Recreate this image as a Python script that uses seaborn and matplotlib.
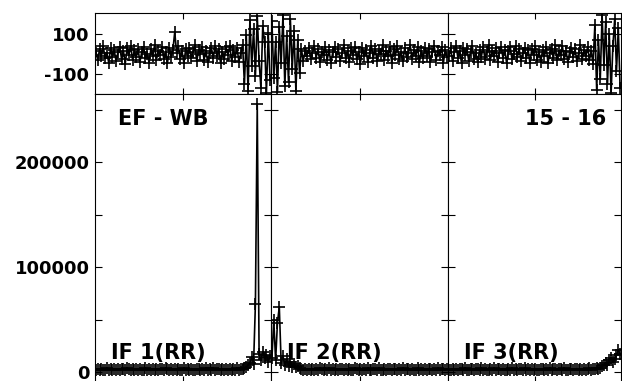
import matplotlib
matplotlib.use("Agg")
import matplotlib.pyplot as plt
import seaborn as sns

# channels per IF and the labels
n_chan = 96
channels = list(range(1, n_chan + 1))
if_labels = ["IF 1(RR)", "IF 2(RR)", "IF 3(RR)"]
baseline_label = "EF - WB"
time_label = "15 - 16"

# phase (degrees), one list per IF
phase_if1 = [14, -32, 25, -9, 38, -21, 6, -44, 30, -13, 19, -37,
             9, 35, -26, 16, -48, 28, -4, 41, -29, 18, -17, 24,
             -40, 11, 33, -19, 2, -43, 26, -11, 45, -31, 17, -6,
             37, -24, 8, -47, 29, -15, 21, 110, 5, 40, -27, 13,
             -45, 27, -8, 32, -20, 11, 43, -35, 20, -2, 36, -28,
             15, -41, 7, 30, -18, 39, -9, 24, -46, 12, -25, 34,
             -6, 42, -33, 19, -14, 28, -39, 3, 47, -150, 95, -185,
             170, -60, 125, -110, 190, -35, -170, 140, 60, -195, 105, -130]
phase_if2 = [165, -120, 60, -190, 135, -45, 195, -160, 90, -140, 175, -75,
             115, -185, 70, -95, 24, -35, 14, -8, 31, -24, 7, 39,
             -18, 26, -42, 12, -3, 34, -28, 18, -46, 9, 36, -14,
             23, -33, 4, 43, -22, 15, -39, 28, -7, 37, -25, 10,
             -49, 31, -12, 20, -41, 6, 38, -19, 27, -35, 13, -2,
             44, -30, 17, -10, 33, -44, 24, -5, 40, -23, 11, -37,
             29, -16, 3, 45, -27, 19, -8, 35, -42, 14, -21, 32,
             -11, 26, -38, 8, 41, -29, 16, -4, 36, -45, 22, -13]
phase_if3 = [-12, 29, -37, 8, 42, -20, 15, -46, 31, -6, 24, -33,
             11, 39, -27, 3, -41, 20, -14, 36, -24, 9, 46, -30,
             16, -8, 28, -39, 5, 34, -18, 22, -44, 13, 37, -26,
             2, 41, -16, 25, -35, 7, 30, -21, 18, -47, 26, -4,
             39, -28, 12, -38, 21, -11, 33, -43, 6, 27, -19, 44,
             -32, 14, -5, 38, -25, 17, -40, 10, 31, -15, 23, -36,
             4, 45, -23, 19, -9, 35, -29, 13, -48, 145, -180, 70,
             -125, 195, -55, 160, -150, 100, -195, 40, 175, -85, 130, -170]

# amplitude, one list per IF
amp_if1 = [2100, 2800, 1600, 3200, 2400, 1900, 3500, 2200, 2700, 1500, 3100, 2300,
           2900, 1800, 3300, 2500, 2000, 3400, 2600, 1700, 3000, 2200, 2800, 1600,
           3200, 2400, 1900, 3600, 2100, 2700, 1500, 3100, 2300, 2900, 1800, 3300,
           2500, 2000, 3400, 2600, 1700, 3000, 2200, 2800, 1600, 3200, 2400, 1900,
           3500, 2100, 2700, 1800, 3300, 2400, 2000, 3100, 2600, 1700, 2900, 2300,
           3400, 1900, 2800, 2200, 3600, 1600, 3000, 2500, 2100, 3200, 1800, 2700,
           2400, 3100, 1700, 2900, 2200, 3500, 2000, 2600, 3300, 3800, 4600, 6500,
           9000, 14000, 8000, 65000, 255000, 17000, 11000, 19000, 13000, 16000, 10000, 15000]
amp_if2 = [13000, 50000, 11000, 47000, 62000, 9000, 15000, 7000, 12000, 6000, 10000, 5000,
           8000, 4500, 6000, 3500, 2600, 1800, 3100, 2300, 2900, 1700, 3300, 2000,
           2700, 1600, 3400, 2500, 1900, 3000, 2200, 3500, 1800, 2800, 2400, 3200,
           1500, 2600, 3100, 2100, 2900, 1700, 3300, 2300, 2000, 3600, 2500, 1600,
           3000, 2200, 2800, 1900, 3400, 2400, 1800, 3200, 2600, 2000, 3500, 2300,
           1700, 2900, 2100, 3300, 2500, 1600, 3100, 2700, 2000, 2800, 2200, 3400,
           1900, 2600, 3000, 1800, 3200, 2400, 2100, 3500, 1700, 2800, 2300, 3100,
           2000, 3300, 2500, 1600, 2900, 2200, 3400, 1800, 2700, 3000, 2100, 2600]
amp_if3 = [2400, 1700, 3100, 2200, 2900, 1600, 3300, 2500, 2000, 3500, 2300, 1800,
           3000, 2600, 1900, 3200, 2700, 1500, 3400, 2100, 2800, 2300, 1700, 3100,
           2200, 3600, 1900, 2500, 3000, 1800, 3300, 2400, 1600, 2900, 2200, 3500,
           2000, 2700, 1800, 3200, 2600, 2100, 3400, 1700, 2800, 2300, 3000, 1900,
           3300, 2400, 2000, 3100, 2600, 1800, 2900, 2200, 3500, 1700, 2700, 3200,
           2100, 3000, 2500, 1600, 3400, 2300, 1900, 2800, 3100, 2000, 2600, 3300,
           1800, 2900, 2400, 3200, 2100, 2700, 3500, 2000, 3000, 2500, 3600, 3000,
           4200, 5500, 7000, 9000, 6500, 11000, 13000, 10000, 12000, 16000, 21000, 17000]

phases = [phase_if1, phase_if2, phase_if3]
amps = [amp_if1, amp_if2, amp_if3]

sns.set_theme(style="white")
plt.rcParams["font.family"] = ["DejaVu Sans"]
plt.rcParams["font.weight"] = "bold"
plt.rcParams["axes.unicode_minus"] = False
plt.rcParams["text.color"] = "black"
plt.rcParams["xtick.color"] = "black"
plt.rcParams["ytick.color"] = "black"

W, H = 622, 381
fig = plt.figure(figsize=(W / 100, H / 100), dpi=100)

col_edges = [95, 271, 448, 621]
top_rows = (13, 94)
bot_rows = (94, 382)

line_kw = dict(color="black", sort=False, marker="+", markersize=8.5,
               markeredgewidth=1.2, markeredgecolor="black", linewidth=1.2)


def add_axes(x0, x1, y0, y1):
    return fig.add_axes([x0 / W, 1 - y1 / H, (x1 - x0) / W, (y1 - y0) / H])


def style_axes(ax, first):
    for sp in ax.spines.values():
        sp.set_color("black")
        sp.set_linewidth(0.8)
    ax.set_xlim(0.5, n_chan + 0.5)
    ax.set_xticks([(n_chan + 1) / 2])
    ax.set_xticklabels([])
    ax.tick_params(axis="x", direction="in", top=True, bottom=True,
                   length=4, width=0.8, color="black")
    ax.tick_params(axis="y", which="both", direction="in", left=True, right=True,
                   length=5, width=0.8, color="black", labelsize=13, pad=4,
                   labelcolor="black")
    if not first:
        ax.tick_params(axis="y", labelleft=False)
    ax.set_xlabel("")
    ax.set_ylabel("")


for i in range(3):
    x0, x1 = col_edges[i], col_edges[i + 1]

    ax_ph = add_axes(x0, x1, *top_rows)
    sns.lineplot(x=channels, y=phases[i], ax=ax_ph, **line_kw)
    ax_ph.set_ylim(-200, 205)
    ax_ph.set_yticks([-100, 100])
    ax_ph.set_yticklabels(["-100", "100"], fontweight="bold")
    style_axes(ax_ph, i == 0)

    ax_am = add_axes(x0, x1, *bot_rows)
    sns.lineplot(x=channels, y=amps[i], ax=ax_am, **line_kw)
    ax_am.set_ylim(-9500, 264762)
    ax_am.set_yticks([0, 100000, 200000])
    ax_am.set_yticklabels(["0", "100000", "200000"], fontweight="bold")
    ax_am.set_yticks([50000, 150000, 250000], minor=True)
    style_axes(ax_am, i == 0)

    ax_am.text(16 / (x1 - x0), 0.10, if_labels[i], transform=ax_am.transAxes,
               fontsize=15, fontweight="bold", ha="left", va="center")
    if i == 0:
        ax_am.text(23 / (x1 - x0), 0.912, baseline_label, transform=ax_am.transAxes,
                   fontsize=15, fontweight="bold", ha="left", va="center")
    if i == 2:
        ax_am.text(1 - 15 / (x1 - x0), 0.912, time_label, transform=ax_am.transAxes,
                   fontsize=15, fontweight="bold", ha="right", va="center")

fig.savefig("out.png", dpi=100, facecolor="white")
